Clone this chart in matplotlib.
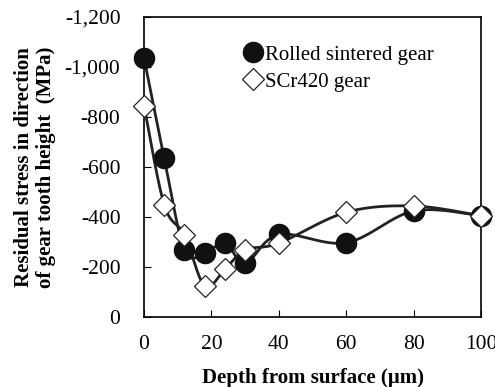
""" residual stress vs depth for rolled sintered and SCr420 gears """

import matplotlib.pyplot as plt
import numpy as np
from matplotlib.ticker import FuncFormatter

plt.rcParams["font.family"] = ["Liberation Serif", "DejaVu Serif"]

depth = [0, 6, 12, 18, 24, 30, 40, 60, 80, 100]
rolled = [-1035, -635, -268, -255, -297, -215, -330, -297, -424, -405]
scr420 = [-845, -448, -328, -124, -191, -268, -295, -419, -444, -405]


def smooth(x, y, n=30):
    """excel-like smoothed line (cardinal bezier through the points)"""
    x = np.asarray(x, float)
    y = np.asarray(y, float)
    xs, ys = [], []
    for i in range(len(x) - 1):
        x0, y0 = (x[i - 1], y[i - 1]) if i > 0 else (x[i], y[i])
        x3, y3 = (x[i + 2], y[i + 2]) if i + 2 < len(x) else (x[i + 1], y[i + 1])
        x1, y1 = x[i], y[i]
        x2, y2 = x[i + 1], y[i + 1]
        c1x, c1y = x1 + (x2 - x0) / 6, y1 + (y2 - y0) / 6
        c2x, c2y = x2 - (x3 - x1) / 6, y2 - (y3 - y1) / 6
        t = np.linspace(0, 1, n)
        a, b, c, d = (1 - t) ** 3, 3 * t * (1 - t) ** 2, 3 * t**2 * (1 - t), t**3
        xs.extend(a * x1 + b * c1x + c * c2x + d * x2)
        ys.extend(a * y1 + b * c1y + c * c2y + d * y2)
    return xs, ys


fig = plt.figure(figsize=(4.95, 3.87), dpi=100)
ax = fig.add_axes([0.291, 0.181, 0.681, 0.775])

for yv in (rolled, scr420):
    sx, sy = smooth(depth, yv)
    ax.plot(sx, sy, color="#222222", lw=2.0, zorder=2)

ax.plot(depth, rolled, "o", ms=14.5, color="#111111", mec="#111111",
        ls="none", label="Rolled sintered gear", zorder=3, clip_on=False)
ax.plot(depth, scr420, "D", ms=11, mfc="white", mec="#222222", mew=0.9,
        ls="none", label="SCr420 gear", zorder=4, clip_on=False)

ax.set_xlim(0, 100)
ax.set_ylim(0, -1200)
ax.set_xticks(range(0, 101, 20))
ax.set_yticks(range(0, -1201, -200))
ax.yaxis.set_major_formatter(FuncFormatter(lambda v, p: f"{int(v):,}"))
ax.tick_params(direction="in", length=5, labelsize=15.5)
ax.tick_params(axis="y", pad=17)
ax.tick_params(axis="x", pad=13)
for sp in ax.spines.values():
    sp.set_linewidth(1.2)

ax.set_xlabel("Depth from surface (\u00b5m)", fontsize=15, fontweight="bold",
              labelpad=10)
ax.set_ylabel("Residual stress in direction\nof gear tooth height  (MPa)",
              fontsize=15, fontweight="bold", labelpad=6, linespacing=1.15)

ax.legend(loc="upper left", bbox_to_anchor=(0.245, 0.955), frameon=False,
          fontsize=15, handletextpad=0.05, borderpad=0.2, labelspacing=0.35,
          handlelength=1.1)

plt.savefig("out.png", dpi=100)
